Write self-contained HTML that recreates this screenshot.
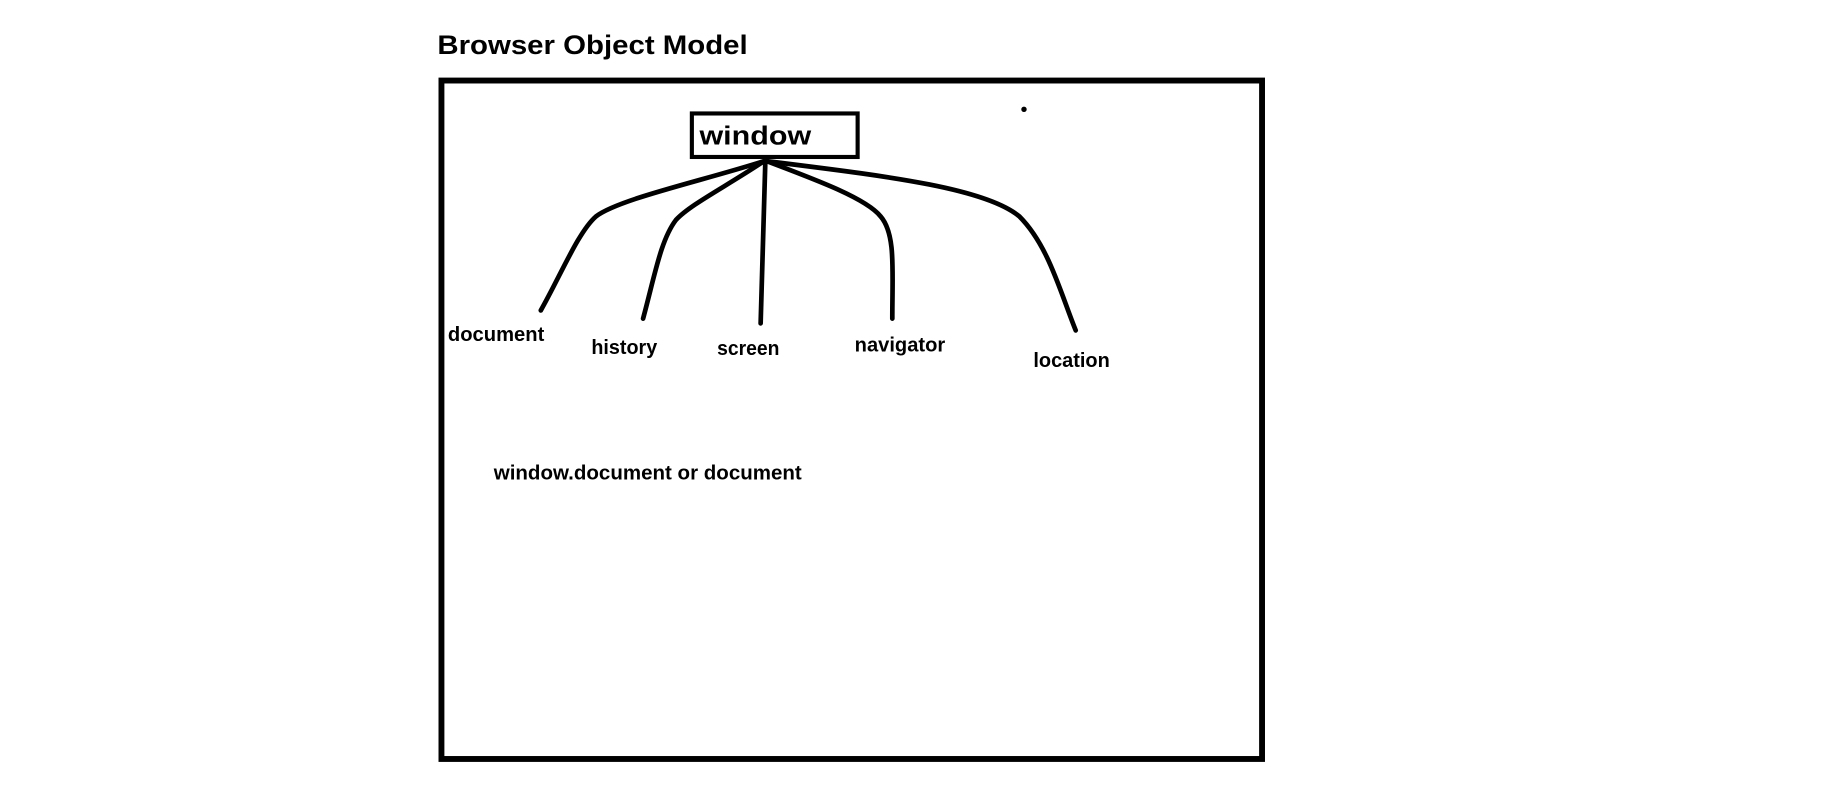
<!DOCTYPE html>
<html><head><meta charset="utf-8"><style>
html,body{margin:0;padding:0;background:#fff;width:1834px;height:812px;overflow:hidden}
svg{display:block}
text{font-family:"Liberation Sans",sans-serif;font-weight:bold;fill:#000}
</style></head><body>
<svg width="1834" height="812" viewBox="0 0 1560 690.6" preserveAspectRatio="none">
<g transform="translate(-3,-1)">
<text x="375" y="47" font-size="23" textLength="264" lengthAdjust="spacingAndGlyphs">Browser Object Model</text>
<rect x="378.5" y="69.5" width="698" height="577" fill="none" stroke="#000" stroke-width="5"/>
<rect x="591.5" y="97.5" width="141" height="37" fill="none" stroke="#000" stroke-width="3.5"/>
<text x="598" y="124" font-size="22" textLength="95" lengthAdjust="spacingAndGlyphs">window</text>
<circle cx="874" cy="94" r="2.3" fill="#000"/>
<g fill="none" stroke="#000" stroke-width="4" stroke-linecap="round">
<path d="M653,138 C600,155 530,170 510,185 C495,198 480,235 463,265"/>
<path d="M653,138 C620,160 590,175 578,188 C565,205 560,235 550,272"/>
<path d="M654,138 L650,276"/>
<path d="M655,138 C700,155 740,170 752,185 C765,200 762,230 762,272"/>
<path d="M655,138 C750,150 840,160 870,185 C895,210 905,250 918,282"/>
</g>
<g font-size="17">
<text x="384" y="291" textLength="82" lengthAdjust="spacingAndGlyphs">document</text>
<text x="506" y="302" textLength="56" lengthAdjust="spacingAndGlyphs">history</text>
<text x="613" y="303" textLength="53" lengthAdjust="spacingAndGlyphs">screen</text>
<text x="730" y="300" textLength="77" lengthAdjust="spacingAndGlyphs">navigator</text>
<text x="882" y="313" textLength="65" lengthAdjust="spacingAndGlyphs">location</text>
<text x="423" y="409" textLength="262" lengthAdjust="spacingAndGlyphs">window.document or document</text>
</g>
</g>
</svg>
</body></html>
